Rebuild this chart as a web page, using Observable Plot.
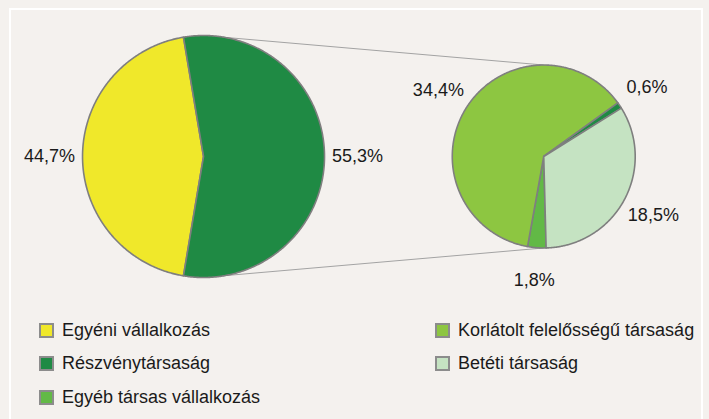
<!DOCTYPE html>
<html><head><meta charset="utf-8">
<script src="https://cdn.jsdelivr.net/npm/d3@7"></script>
<script src="https://cdn.jsdelivr.net/npm/@observablehq/plot@0.6"></script>
<style>
html,body{margin:0;padding:0;background:#f4f1ee;width:709px;height:419px;overflow:hidden;font-family:"Liberation Sans",Arial,sans-serif;}
#frame{position:absolute;left:9px;top:8px;width:690px;height:440px;border:2px solid #ffffff;}
#chart{position:absolute;left:0;top:0;}
#legend{position:absolute;left:0;top:0;}
.item{position:absolute;display:flex;align-items:center;font-size:18px;color:#1a1a1a;white-space:nowrap;height:16px;}
.sw{width:15px;height:15px;box-sizing:border-box;border:2px solid #8c8c8c;margin-right:8px;flex:none;}
</style></head><body>
<div id="frame"></div><div id="chart"></div><div id="legend"></div>
<script>
// ---- data ----
const mainCategories = ["Egyéni vállalkozás", "Társas vállalkozás"];
const mainValues = [44.7, 55.3];
const subCategories = ["Egyéb társas vállalkozás", "Korlátolt felelősségű társaság", "Részvénytársaság", "Betéti társaság"];
const subValues = [1.8, 34.4, 0.6, 18.5];
const legendLabels = ["Egyéni vállalkozás", "Részvénytársaság", "Egyéb társas vállalkozás", "Korlátolt felelősségű társaság", "Betéti társaság"];
const colorOf = {
  "Egyéni vállalkozás": "#f0e82a",
  "Társas vállalkozás": "#1f8a44",
  "Részvénytársaság": "#1f8a44",
  "Egyéb társas vállalkozás": "#62b946",
  "Korlátolt felelősségű társaság": "#8dc641",
  "Betéti társaság": "#c5e3c2"
};

// ---- layout (abstract units: main pie radius = 1) ----
const W = 709, H = 310;
const mainCenter = [0, 0], mainRadius = 1;
const subCenter = [2.812, 0], subRadius = 0.756;
const subStartAngle = 178.5;          // degrees, clockwise from top
const labelGap = 0.273;               // label centre beyond the rim
const xDomain = [-1.678, 4.182], yDomain = [-1.2727, 1.2893];

function wedges(cats, vals, startDeg, c, r, pie) {
  const total = d3.sum(vals);
  const pts = [], labels = [];
  let cum = 0;
  cats.forEach((cat, i) => {
    const a0 = startDeg + cum / total * 360;
    cum += vals[i];
    const a1 = startDeg + cum / total * 360;
    const key = pie + ":" + cat;
    const color = colorOf[cat];
    pts.push({key, color, x: c[0], y: c[1]});
    const n = Math.max(2, Math.ceil((a1 - a0) / 0.5));
    for (let k = 0; k <= n; k++) {
      const a = (a0 + (a1 - a0) * k / n) * Math.PI / 180;
      pts.push({key, color, x: c[0] + r * Math.sin(a), y: c[1] + r * Math.cos(a)});
    }
    pts.push({key, color, x: c[0], y: c[1]});
    const am = (a0 + a1) / 2 * Math.PI / 180;
    labels.push({
      x: c[0] + (r + labelGap) * Math.sin(am),
      y: c[1] + (r + labelGap) * Math.cos(am),
      text: vals[i].toFixed(1).replace(".", ",") + "%"
    });
  });
  return {pts, labels};
}

const mainTotal = d3.sum(mainValues);
const mainStart = 90 + (mainValues[1] / mainTotal) * 180;  // "other" slice centred on the right
const main = wedges(mainCategories, mainValues, mainStart, mainCenter, mainRadius, "main");
const sub = wedges(subCategories, subValues, subStartAngle, subCenter, subRadius, "sub");

const connectors = [
  {x1: mainCenter[0], y1: mainCenter[1] + mainRadius, x2: subCenter[0], y2: subCenter[1] + subRadius},
  {x1: mainCenter[0], y1: mainCenter[1] - mainRadius, x2: subCenter[0], y2: subCenter[1] - subRadius}
];

const chart = Plot.plot({
  width: W, height: H,
  margin: 0,
  x: {domain: xDomain, axis: null},
  y: {domain: yDomain, axis: null},
  color: {type: "identity"},
  style: {background: "transparent", fontFamily: "'Liberation Sans', Arial, sans-serif"},
  marks: [
    Plot.link(connectors, {x1: "x1", y1: "y1", x2: "x2", y2: "y2", stroke: "#a3a3a3", strokeWidth: 1}),
    Plot.line([...main.pts, ...sub.pts], {x: "x", y: "y", z: "key", fill: "color", stroke: "#7f7f7f", strokeWidth: 1.6, strokeLinejoin: "round"}),
    Plot.text([...main.labels, ...sub.labels], {x: "x", y: "y", text: "text", fontSize: 18, fill: "#1a1a1a", textAnchor: "middle", lineAnchor: "middle"})
  ]
});
document.getElementById("chart").appendChild(chart);

// ---- legend ----
const legend = document.getElementById("legend");
const colX = [39, 435], rowY = [322, 355.5, 389];
legendLabels.forEach((lab, i) => {
  const col = i < 3 ? 0 : 1, row = i < 3 ? i : i - 3;
  const it = document.createElement("div");
  it.className = "item";
  it.style.left = colX[col] + "px";
  it.style.top = rowY[row] + "px";
  const sw = document.createElement("span");
  sw.className = "sw";
  sw.style.background = colorOf[lab];
  const tx = document.createElement("span");
  tx.textContent = lab;
  it.appendChild(sw); it.appendChild(tx);
  legend.appendChild(it);
});
</script>
</body></html>
